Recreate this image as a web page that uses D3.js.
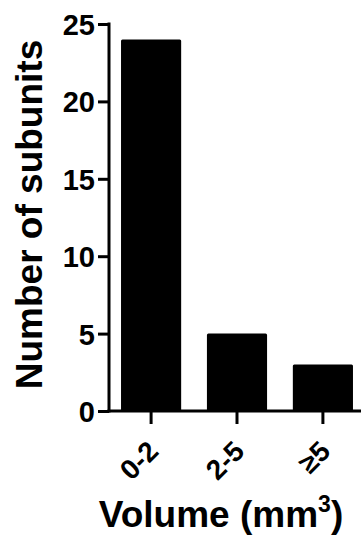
<!DOCTYPE html>
<html>
<head>
<meta charset="utf-8">
<script src="https://cdn.jsdelivr.net/npm/d3@7"></script>
<style>
  html, body { margin: 0; padding: 0; background: #fff; }
  svg { display: block; font-family: "Liberation Sans", Arial, sans-serif; }
</style>
</head>
<body>
<svg id="chart" width="361" height="537"></svg>
<script>
// Chart data
const categories = ['0-2', '2-5', '≥5'];
const counts = [24, 5, 3];
const yTicks = [0, 5, 10, 15, 20, 25];

const svg = d3.select('#chart');

// Plot area
const plotLeft = 109, plotBottom = 411, plotTop = 24, plotRight = 365;

const x = d3.scaleBand()
    .domain(categories)
    .range([plotLeft, plotRight])
    .paddingInner(0.3)
    .paddingOuter(0.14);

const y = d3.scaleLinear()
    .domain([0, 25])
    .range([plotBottom, plotTop]);

// Bars
svg.selectAll('.bar')
    .data(categories)
    .enter().append('rect')
    .attr('class', 'bar')
    .attr('x', d => x(d))
    .attr('y', (d, i) => y(counts[i]))
    .attr('width', x.bandwidth())
    .attr('height', (d, i) => y(0) - y(counts[i]))
    .attr('rx', 1.5)
    .attr('fill', '#000');

// Y axis
const yAxis = svg.append('g')
    .attr('transform', `translate(${plotLeft},0)`)
    .call(d3.axisLeft(y).tickValues(yTicks).tickSize(11).tickPadding(3));
yAxis.select('.domain').remove();
yAxis.append('line')
    .attr('x1', 0).attr('x2', 0)
    .attr('y1', y(25) - 1.5).attr('y2', y(0) + 1.5)
    .attr('stroke', '#000').attr('stroke-width', 3);
yAxis.selectAll('.tick line').attr('stroke-width', 3);
yAxis.selectAll('.tick text')
    .attr('font-size', 29).attr('font-weight', 'bold').attr('fill', '#000')
    .attr('dy', '0.36em');

// X axis
const xAxis = svg.append('g')
    .attr('transform', `translate(0,${plotBottom})`)
    .call(d3.axisBottom(x).tickSize(13).tickFormat(''));
xAxis.select('.domain').remove();
xAxis.append('line')
    .attr('x1', plotLeft - 1.5).attr('x2', 361)
    .attr('y1', 0).attr('y2', 0)
    .attr('stroke', '#000').attr('stroke-width', 3);
xAxis.selectAll('.tick line').attr('stroke-width', 3);

// Rotated category labels
svg.selectAll('.xlab')
    .data(categories)
    .enter().append('text')
    .attr('class', 'xlab')
    .attr('transform', d => `translate(${x(d) + x.bandwidth() / 2 + 9},${plotBottom + 42}) rotate(-45)`)
    .attr('text-anchor', 'end')
    .attr('font-size', 28)
    .attr('font-weight', 'bold')
    .text(d => d);

// Axis titles
svg.append('text')
    .attr('transform', `translate(42,${(y(0) + y(25)) / 2 - 3}) rotate(-90)`)
    .attr('text-anchor', 'middle')
    .attr('font-size', 37)
    .attr('font-weight', 'bold')
    .text('Number of subunits');

const xt = svg.append('text')
    .attr('x', 221)
    .attr('y', 527)
    .attr('text-anchor', 'middle')
    .attr('font-size', 37)
    .attr('font-weight', 'bold');
xt.append('tspan').text('Volume (mm');
xt.append('tspan').attr('font-size', 23).attr('dy', -15).text('3');
xt.append('tspan').attr('dy', 15).text(')');
</script>
</body>
</html>
